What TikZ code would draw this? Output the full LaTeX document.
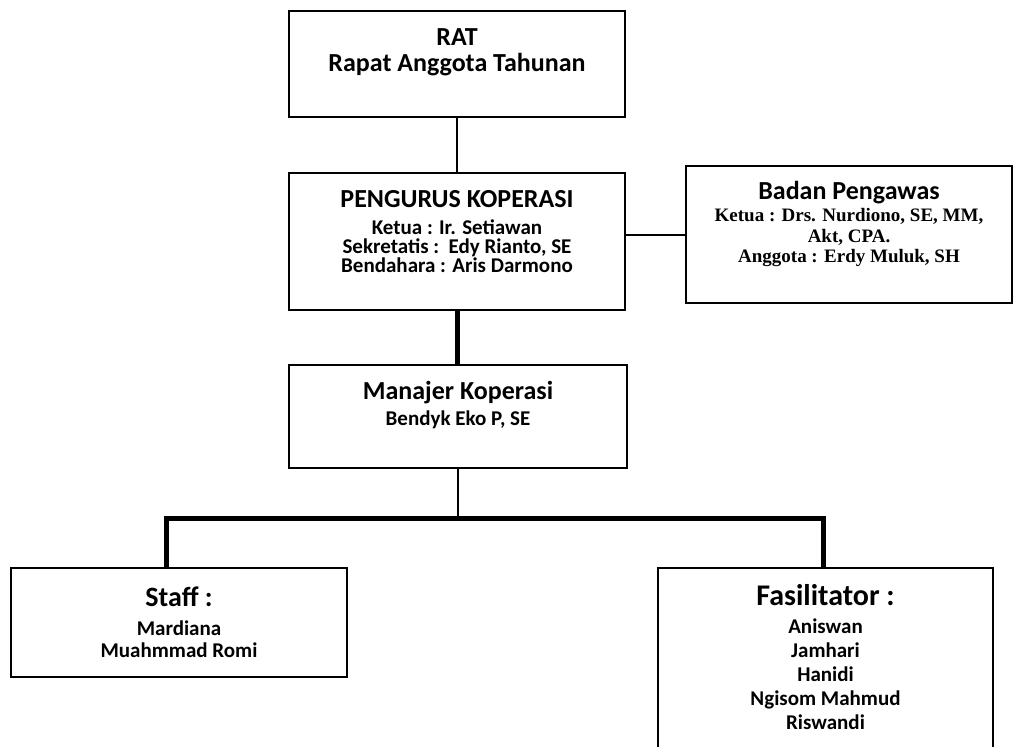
\documentclass[tikz,border=0pt]{standalone}
\usepackage{fontspec}
\setmainfont{Carlito}
\newfontfamily\timesfont{Liberation Serif}
\newcommand\tightlines{\lineskiplimit=-8pt\relax}

\begin{document}
\begin{tikzpicture}[x=1pt, y=-1pt,
  box/.style={draw, line width=1.5pt, inner sep=0pt},
  title/.style={font=\fontsize{26}{30}\selectfont\bfseries},
  detail/.style={font=\fontsize{21}{19}\selectfont\bfseries\tightlines, align=center},
  names/.style={font=\fontsize{21}{24}\selectfont\bfseries\tightlines, align=center},
  serifdetail/.style={font=\timesfont\fontsize{19}{20.5}\selectfont\bfseries\tightlines, align=center},
  link/.style={line width=2pt},
  heavy/.style={line width=5pt}]

% Fix the page to the size of the picture
\useasboundingbox (0,0) rectangle (1013,747);
\clip (0,0) rectangle (1013,747);

% Draw the boxes
\node [box, minimum width=336pt, minimum height=106pt] (rat) at (457,64) {};
\node [box, minimum width=336pt, minimum height=137pt] (pengurus) at (457,241.5) {};
\node [box, minimum width=326pt, minimum height=137pt] (pengawas) at (849,234.5) {};
\node [box, minimum width=338pt, minimum height=103pt] (manajer) at (458,416.5) {};
\node [box, minimum width=336pt, minimum height=109pt] (staff) at (179,622.5) {};
\node [box, minimum width=335pt, minimum height=232pt] (fasilitator) at (825.5,684) {};

% Write the texts in the boxes
\node [title] (ratT) at (457,37) {RAT};
\node [title] (ratD) at (457,65) {Rapat Anggota Tahunan};
\node [title] (pengurusT) at (457,199) {PENGURUS KOPERASI};
\node [detail] (pengurusD) at (457,246) {Ketua : Ir. Setiawan\\Sekretatis :\ \ Edy Rianto, SE\\Bendahara : Aris Darmono};
\node [title] (pengawasT) at (849,193) {Badan Pengawas};
\node [serifdetail] (pengawasD) at (849,238) {Ketua : Drs. Nurdiono, SE, MM,\\Akt, CPA.\\Anggota : Erdy Muluk, SH};
\node [title] (manajerT) at (458,393) {Manajer Koperasi};
\node [detail] (manajerD) at (458,420) {Bendyk Eko P, SE};
\node [title, font=\fontsize{28}{32}\selectfont\bfseries] (staffT) at (179,597) {Staff :};
\node [names, font=\fontsize{21}{22}\selectfont\bfseries\tightlines] (staffD) at (179,639) {Mardiana\\Muahmmad Romi};
\node [title, font=\fontsize{30}{34}\selectfont\bfseries] (fasilitatorT) at (825.5,595) {Fasilitator :};
\node [names] (fasilitatorD) at (825.5,674) {Aniswan\\Jamhari\\Hanidi\\Ngisom Mahmud\\Riswandi};

% Draw the lines between the boxes
\coordinate (hub) at (458,518);
\coordinate (barL) at (166,518);
\coordinate (barR) at (823,518);
\draw [link] (rat.south) -- (pengurus.north);
\draw [link] (pengurus.east |- pengawas.west) -- (pengawas.west);
\draw [heavy] (pengurus.south) -- (pengurus.south |- manajer.north);
\draw [link] (manajer.south) -- (hub);
\draw [heavy] (barL |- staff.north) -- (barL) -- (barR) -- (barR |- fasilitator.north);

\end{tikzpicture}
\end{document}
